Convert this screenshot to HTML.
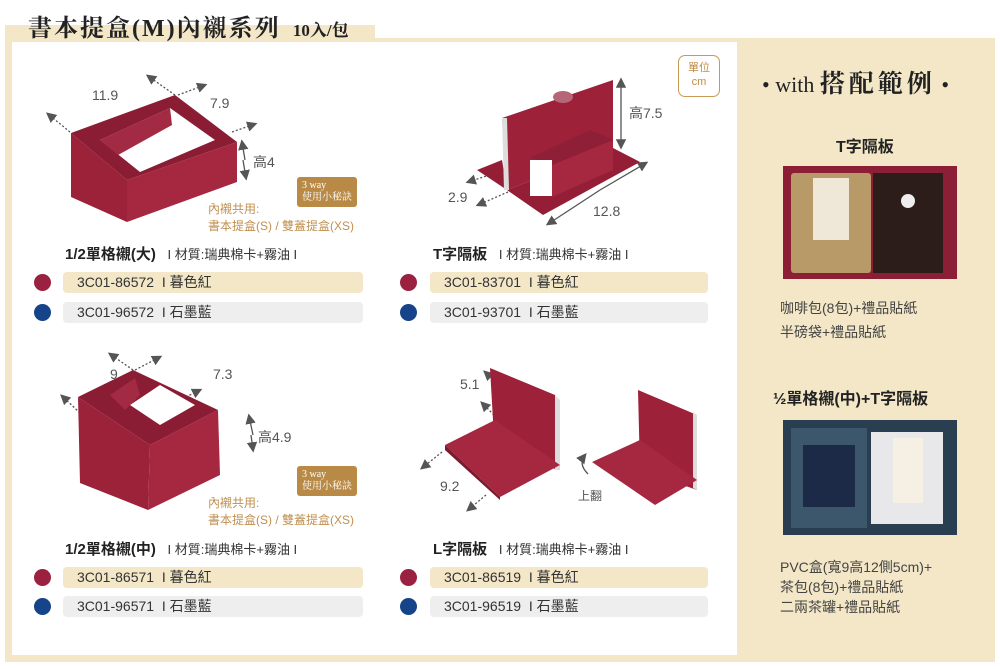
<!DOCTYPE html>
<html><head><meta charset="utf-8"><style>
*{margin:0;padding:0;box-sizing:border-box}
body{width:1000px;height:669px;background:#fff;position:relative;overflow:hidden;font-family:"Liberation Sans","Noto Sans CJK TC",sans-serif;color:#333}
.a{position:absolute;white-space:nowrap}
.pill{position:absolute;height:21px;border-radius:4px;font-size:14px;line-height:21px;padding-left:14px;color:#333}
.y{background:#f3e7c7}.g{background:#eeeeee}
.dot{position:absolute;width:17px;height:17px;border-radius:50%}
.r{background:#9b2140}.b{background:#16448a}
.tt{font-size:15px;font-weight:bold;color:#222}
.mt{font-size:13px;color:#333}
.note{font-size:12px;color:#c09050;line-height:17px}
.tip{position:absolute;background:#b98a45;color:#fff;font-size:10px;line-height:12px;padding:3px 5px;border-radius:3px;font-family:"Liberation Serif","Noto Serif CJK SC",serif}
.dim{font-size:14px;color:#555}
</style></head><body>
<div class="a" style="left:5px;top:25px;width:370px;height:17px;background:#f3e7c7"></div>
<div class="a" style="left:5px;top:38px;width:990px;height:624px;background:#f3e7c7"></div>
<div class="a" style="left:12px;top:42px;width:725px;height:613px;background:#fff"></div>
<div class="a" style="left:28px;top:8px;font-size:24px;font-weight:bold;font-family:'Liberation Serif','Noto Serif CJK SC',serif;color:#222;letter-spacing:2px">書本提盒(M)內襯系列 <span style="font-size:17px;letter-spacing:0">&nbsp;10入/包</span></div>

<svg class="a" style="left:0;top:0" width="1000" height="669">
<defs><marker id="m" markerWidth="8" markerHeight="8" refX="6" refY="4" orient="auto"><path d="M0,0L8,4L0,8z" fill="#555"/></marker></defs>
<g stroke="#555" stroke-width="1.3" stroke-dasharray="2,2" fill="none" marker-end="url(#m)">
<line x1="70" y1="132" x2="48" y2="114"/><line x1="175" y1="95" x2="148" y2="76"/><line x1="178" y1="95" x2="205" y2="85"/><line x1="232" y1="132" x2="255" y2="124"/>
<line x1="80" y1="413" x2="62" y2="396"/><line x1="133" y1="370" x2="110" y2="354"/><line x1="135" y1="370" x2="160" y2="357"/><line x1="168" y1="406" x2="200" y2="390"/>
<line x1="505" y1="170" x2="468" y2="182"/><line x1="508" y1="192" x2="478" y2="205"/>
<line x1="496" y1="382" x2="485" y2="372"/><line x1="494" y1="415" x2="482" y2="403"/><line x1="442" y1="452" x2="422" y2="468"/><line x1="486" y1="495" x2="468" y2="510"/>
</g>
<g stroke="#555" stroke-width="1.3" fill="none" marker-end="url(#m)">
<line x1="245" y1="160" x2="242" y2="142"/><line x1="243" y1="160" x2="246" y2="178"/>
<line x1="253" y1="435" x2="249" y2="416"/><line x1="251" y1="435" x2="253" y2="450"/>
<line x1="621" y1="115" x2="621" y2="80"/><line x1="621" y1="115" x2="621" y2="147"/>
<line x1="600" y1="190" x2="646" y2="163"/><line x1="600" y1="190" x2="548" y2="224"/>
</g>
<path d="M588,474 Q578,464 585,455" stroke="#555" stroke-width="1.3" fill="none" marker-end="url(#m)"/>
<!-- box 1 -->
<polygon points="71,133 175,95 237,142 127,180" fill="#8a1c33"/>
<polygon points="100,140 170,108 215,140 140,172" fill="#fff"/>
<polygon points="100,140 170,108 172,125 118,155" fill="#a22a42"/>
<polygon points="71,133 127,180 127,222 71,197" fill="#9b2238"/>
<polygon points="127,180 237,142 237,182 127,222" fill="#a52740"/>
<!-- box 2 -->
<polygon points="78,397 133,370 218,410 150,445" fill="#8a1c33"/>
<polygon points="130,405 160,385 195,405 160,425" fill="#fff"/>
<polygon points="110,395 135,378 140,395 125,410" fill="#a22a42"/>
<polygon points="78,397 150,445 148,510 80,483" fill="#9b2238"/>
<polygon points="150,445 218,410 220,475 148,510" fill="#a52740"/>
<!-- T divider -->
<polygon points="477,170 502,160 507,190" fill="#951e37"/>
<polygon points="507,190 613,148 640,162 543,215" fill="#951e37"/>
<polygon points="502,118 613,80 613,148 507,190" fill="#9c2139"/>
<polygon points="502,118 507,118 509,190 504,190" fill="#ddd"/>
<polygon points="530,158 590,130 613,140 552,165" fill="#8e1f36"/>
<rect x="530" y="160" width="22" height="36" fill="#fff"/>
<polygon points="552,165 613,140 613,170 552,197" fill="#a52740"/>
<ellipse cx="563" cy="97" rx="10" ry="6" fill="#b56677"/>
<!-- L dividers -->
<polygon points="490,368 555,395 560,470 495,455" fill="#9c2139"/>
<polygon points="555,395 560,400 560,470 555,470" fill="#ddd"/>
<polygon points="445,445 495,420 560,465 500,497" fill="#a52740"/>
<polygon points="445,445 500,497 500,500 445,450" fill="#7a1a2d"/>
<polygon points="638,390 697,415 697,490 640,470" fill="#9c2139"/>
<polygon points="693,412 697,415 697,490 693,488" fill="#ddd"/>
<polygon points="592,462 640,440 697,480 655,505" fill="#a52740"/>
</svg>

<div class="a dim" style="left:92px;top:87px">11.9</div>
<div class="a dim" style="left:210px;top:95px">7.9</div>
<div class="a dim" style="left:253px;top:152px">高4</div>
<div class="a dim" style="left:110px;top:366px">9</div>
<div class="a dim" style="left:213px;top:366px">7.3</div>
<div class="a dim" style="left:258px;top:427px">高4.9</div>
<div class="a dim" style="left:629px;top:103px">高7.5</div>
<div class="a dim" style="left:448px;top:189px">2.9</div>
<div class="a dim" style="left:593px;top:203px">12.8</div>
<div class="a dim" style="left:460px;top:376px">5.1</div>
<div class="a dim" style="left:440px;top:478px">9.2</div>
<div class="a" style="left:578px;top:487px;font-size:12px;color:#555">上翻</div>

<div class="a" style="left:678px;top:55px;width:42px;height:42px;border:1.5px solid #c99a55;border-radius:7px;color:#c08a45;font-size:11px;text-align:center;line-height:14px;padding-top:5px">單位<br>cm</div>

<div class="tip" style="left:297px;top:177px">3 way<br>使用小秘訣</div>
<div class="a note" style="left:208px;top:201px">內襯共用:<br>書本提盒(S) / 雙蓋提盒(XS)</div>
<div class="tip" style="left:297px;top:466px">3 way<br>使用小秘訣</div>
<div class="a note" style="left:208px;top:495px">內襯共用:<br>書本提盒(S) / 雙蓋提盒(XS)</div>

<div class="a" style="left:65px;top:243px"><span class="tt">1/2單格襯(大)</span> <span class="mt">&nbsp;&nbsp;I 材質:瑞典棉卡+霧油 I</span></div>
<div class="a" style="left:433px;top:243px"><span class="tt">T字隔板</span> <span class="mt">&nbsp;&nbsp;I 材質:瑞典棉卡+霧油 I</span></div>
<div class="a" style="left:65px;top:538px"><span class="tt">1/2單格襯(中)</span> <span class="mt">&nbsp;&nbsp;I 材質:瑞典棉卡+霧油 I</span></div>
<div class="a" style="left:433px;top:538px"><span class="tt">L字隔板</span> <span class="mt">&nbsp;&nbsp;I 材質:瑞典棉卡+霧油 I</span></div>

<div class="dot r" style="left:34px;top:274px"></div><div class="pill y" style="left:63px;top:272px;width:300px">3C01-86572 &nbsp;I 暮色紅</div>
<div class="dot b" style="left:34px;top:304px"></div><div class="pill g" style="left:63px;top:302px;width:300px">3C01-96572 &nbsp;I 石墨藍</div>
<div class="dot r" style="left:400px;top:274px"></div><div class="pill y" style="left:430px;top:272px;width:278px">3C01-83701 &nbsp;I 暮色紅</div>
<div class="dot b" style="left:400px;top:304px"></div><div class="pill g" style="left:430px;top:302px;width:278px">3C01-93701 &nbsp;I 石墨藍</div>
<div class="dot r" style="left:34px;top:569px"></div><div class="pill y" style="left:63px;top:567px;width:300px">3C01-86571 &nbsp;I 暮色紅</div>
<div class="dot b" style="left:34px;top:598px"></div><div class="pill g" style="left:63px;top:596px;width:300px">3C01-96571 &nbsp;I 石墨藍</div>
<div class="dot r" style="left:400px;top:569px"></div><div class="pill y" style="left:430px;top:567px;width:278px">3C01-86519 &nbsp;I 暮色紅</div>
<div class="dot b" style="left:400px;top:598px"></div><div class="pill g" style="left:430px;top:596px;width:278px">3C01-96519 &nbsp;I 石墨藍</div>

<div class="a" style="left:762px;top:64px;font-size:22px;font-family:'Liberation Serif','Noto Serif CJK SC',serif;color:#222">• with <span style="font-size:25px;font-weight:bold;letter-spacing:4px">搭配範例</span> •</div>
<div class="a tt" style="left:836px;top:133px;font-size:16px">T字隔板</div>
<div class="a" style="left:783px;top:166px;width:174px;height:113px;background:#8c1e36">
 <div class="a" style="left:8px;top:7px;width:80px;height:100px;background:#b89a68;border-radius:3px"></div>
 <div class="a" style="left:30px;top:12px;width:36px;height:62px;background:#efe8d8"></div>
 <div class="a" style="left:90px;top:7px;width:70px;height:100px;background:#2c1d1a"></div>
 <div class="a" style="left:118px;top:28px;width:14px;height:14px;border-radius:50%;background:#eee"></div>
</div>
<div class="a" style="left:780px;top:296px;font-size:14px;line-height:24px;color:#444">咖啡包(8包)+禮品貼紙<br>半磅袋+禮品貼紙</div>
<div class="a tt" style="left:773px;top:385px;font-size:16px">½單格襯(中)+T字隔板</div>
<div class="a" style="left:783px;top:420px;width:174px;height:115px;background:#2a3e52">
 <div class="a" style="left:8px;top:8px;width:76px;height:100px;background:#3c566b"></div>
 <div class="a" style="left:20px;top:25px;width:52px;height:62px;background:#1c2a48"></div>
 <div class="a" style="left:88px;top:12px;width:72px;height:92px;background:#e8e8ea"></div>
 <div class="a" style="left:110px;top:18px;width:30px;height:65px;background:#f6efe3"></div>
</div>
<div class="a" style="left:780px;top:557px;font-size:14px;line-height:20px;color:#444">PVC盒(寬9高12側5cm)+<br>茶包(8包)+禮品貼紙<br>二兩茶罐+禮品貼紙</div>
</body></html>
